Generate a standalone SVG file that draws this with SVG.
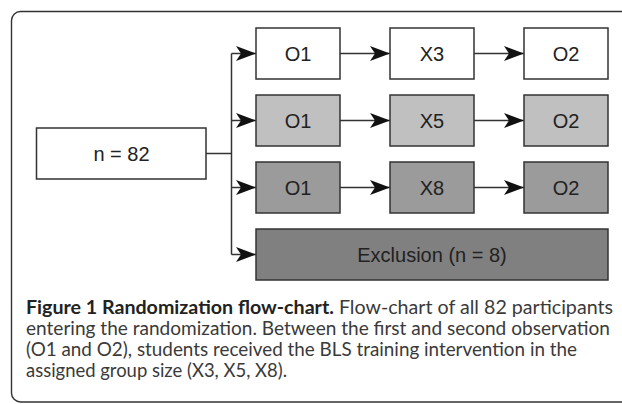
<svg xmlns="http://www.w3.org/2000/svg" width="622" height="404" viewBox="0 0 622 404">
<style>
.box{stroke:#333;stroke-width:1.5}
.lbl{font-family:"Liberation Sans",Arial,sans-serif;font-size:20px;fill:#222;text-anchor:middle}
.con{fill:none;stroke:#333;stroke-width:1.5}
.cap{font-family:Lato,"Open Sans",sans-serif;font-size:18.5px;fill:#3a3a3a}
.capb{font-weight:bold;fill:#222}
</style>
<defs>
<marker id="ah" viewBox="0 0 20 16" refX="20" refY="8" markerWidth="20" markerHeight="16" markerUnits="userSpaceOnUse" orient="auto">
<path d="M0,0.5 L20,8 L0,15.5 L5,8 Z" fill="#111"/>
</marker>
</defs>
<rect x="11.5" y="11.5" width="650" height="390.5" rx="9" fill="#fff" stroke="#333" stroke-width="1.4"/>

<g id="connectors">
<path class="con" d="M206,153.5 H231.5"/>
<path class="con" d="M231.5,53.5 V254.5"/>
<path class="con" d="M231.5,53.5 H256" marker-end="url(#ah)"/>
<path class="con" d="M231.5,120.5 H256" marker-end="url(#ah)"/>
<path class="con" d="M231.5,187.5 H256" marker-end="url(#ah)"/>
<path class="con" d="M231.5,254.5 H256" marker-end="url(#ah)"/>
<path class="con" d="M340,53.5 H390" marker-end="url(#ah)"/>
<path class="con" d="M474,53.5 H524" marker-end="url(#ah)"/>
<path class="con" d="M340,120.5 H390" marker-end="url(#ah)"/>
<path class="con" d="M474,120.5 H524" marker-end="url(#ah)"/>
<path class="con" d="M340,187.5 H390" marker-end="url(#ah)"/>
<path class="con" d="M474,187.5 H524" marker-end="url(#ah)"/>
</g>

<g id="n82"><rect class="box" x="36.5" y="128" width="169.5" height="51" fill="#fff"/><text class="lbl" x="121.5" y="160.7">n = 82</text></g>

<g id="r1o1"><rect class="box" x="256" y="28" width="84" height="51" fill="#fff"/><text class="lbl" x="298" y="60.7">O1</text></g>
<g id="r1x3"><rect class="box" x="390" y="28" width="84" height="51" fill="#fff"/><text class="lbl" x="432" y="60.7">X3</text></g>
<g id="r1o2"><rect class="box" x="524" y="28" width="84" height="51" fill="#fff"/><text class="lbl" x="566" y="60.7">O2</text></g>

<g id="r2o1"><rect class="box" x="256" y="95" width="84" height="51" fill="#c0c0c0"/><text class="lbl" x="298" y="127.7">O1</text></g>
<g id="r2x5"><rect class="box" x="390" y="95" width="84" height="51" fill="#c0c0c0"/><text class="lbl" x="432" y="127.7">X5</text></g>
<g id="r2o2"><rect class="box" x="524" y="95" width="84" height="51" fill="#c0c0c0"/><text class="lbl" x="566" y="127.7">O2</text></g>

<g id="r3o1"><rect class="box" x="256" y="162" width="84" height="51" fill="#9b9b9b"/><text class="lbl" x="298" y="194.7">O1</text></g>
<g id="r3x8"><rect class="box" x="390" y="162" width="84" height="51" fill="#9b9b9b"/><text class="lbl" x="432" y="194.7">X8</text></g>
<g id="r3o2"><rect class="box" x="524" y="162" width="84" height="51" fill="#9b9b9b"/><text class="lbl" x="566" y="194.7">O2</text></g>

<g id="excl"><rect class="box" x="256" y="229" width="352" height="51" fill="#808080"/><text class="lbl" x="432" y="261.7">Exclusion (n = 8)</text></g>

<g id="caption">
<text class="cap" x="26" y="314" textLength="587" lengthAdjust="spacingAndGlyphs"><tspan class="capb">Figure 1 Randomization flow-chart.</tspan> Flow-chart of all 82 participants</text>
<text class="cap" x="26" y="335" textLength="584" lengthAdjust="spacingAndGlyphs">entering the randomization. Between the first and second observation</text>
<text class="cap" x="26" y="356" textLength="551" lengthAdjust="spacingAndGlyphs">(O1 and O2), students received the BLS training intervention in the</text>
<text class="cap" x="26" y="377" textLength="261" lengthAdjust="spacingAndGlyphs">assigned group size (X3, X5, X8).</text>
</g>
</svg>
